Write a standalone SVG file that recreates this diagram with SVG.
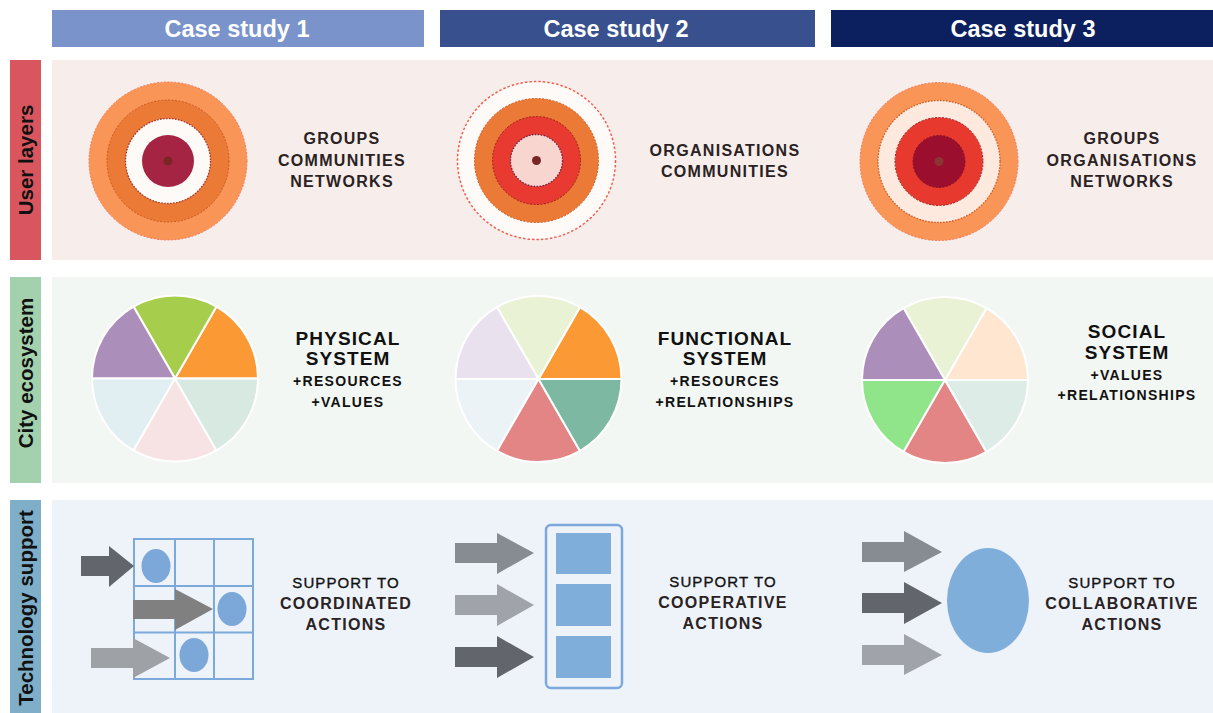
<svg xmlns="http://www.w3.org/2000/svg" xmlns:xlink="http://www.w3.org/1999/xlink" width="1213" height="713" viewBox="0 0 1213 713">
<style>
.hdr{font-family:"Liberation Sans",Arial,sans-serif;font-weight:bold;font-size:23.5px;fill:#ffffff;text-anchor:middle}
.side{font-family:"Liberation Sans",Arial,sans-serif;font-weight:bold;font-size:20.5px;fill:#111111;text-anchor:middle}
.lbl{font-family:"Liberation Sans",Arial,sans-serif;font-weight:bold;font-size:16px;fill:#2a2222;text-anchor:middle;letter-spacing:1.3px}
.big{font-family:"Liberation Sans",Arial,sans-serif;font-weight:bold;font-size:19px;fill:#111111;text-anchor:middle;letter-spacing:1.1px}
.sm{font-family:"Liberation Sans",Arial,sans-serif;font-weight:bold;font-size:14px;fill:#111111;text-anchor:middle;letter-spacing:1.3px}
.sup{font-family:"Liberation Sans",Arial,sans-serif;font-size:15px;fill:#111111;text-anchor:middle;letter-spacing:1.1px;stroke:#111111;stroke-width:0.35px}
.slice{stroke:#ffffff;stroke-width:2;stroke-linejoin:round}
.grid{fill:none;stroke:#7aa9da;stroke-width:2}
.dot{fill:#7ba7d9}
.blk{fill:#7faedb}
</style>
<defs>
<path id="s-tr" d="M0,0 L83,0 A83,83 0 0,0 41.5,-71.88 Z"/>
<path id="s-t" d="M0,0 L41.5,-71.88 A83,83 0 0,0 -41.5,-71.88 Z"/>
<path id="s-tl" d="M0,0 L-41.5,-71.88 A83,83 0 0,0 -83,0 Z"/>
<path id="s-bl" d="M0,0 L-83,0 A83,83 0 0,0 -41.5,71.88 Z"/>
<path id="s-b" d="M0,0 L-41.5,71.88 A83,83 0 0,0 41.5,71.88 Z"/>
<path id="s-br" d="M0,0 L41.5,71.88 A83,83 0 0,0 83,0 Z"/>
</defs>

<rect width="1213" height="713" fill="#ffffff"/>

<!-- headers -->
<g id="header1"><rect x="52" y="10" width="372" height="37" fill="#7b93cb"/><text class="hdr" x="237" y="37">Case study 1</text></g>
<g id="header2"><rect x="440" y="10" width="375" height="37" fill="#38508e"/><text class="hdr" x="616" y="37">Case study 2</text></g>
<g id="header3"><rect x="831" y="10" width="382" height="37" fill="#0c2060"/><text class="hdr" x="1023" y="37">Case study 3</text></g>

<!-- row panels -->
<g id="row-user">
<rect x="52" y="60" width="1161" height="200" fill="#f7edeb"/>
<rect x="10" y="60" width="31" height="200" fill="#d9565e"/>
<text class="side" transform="translate(33,160) rotate(-90)">User layers</text>
</g>
<g id="row-city">
<rect x="52" y="277" width="1161" height="206" fill="#f3f7f3"/>
<rect x="10" y="277" width="31" height="206" fill="#a3d1ad"/>
<text class="side" transform="translate(33,373) rotate(-90)">City ecosystem</text>
</g>
<g id="row-tech">
<rect x="52" y="500" width="1161" height="213" fill="#eef3fa"/>
<rect x="10" y="500" width="31" height="213" fill="#7faec9"/>
<text class="side" transform="translate(33,608) rotate(-90)">Technology support</text>
</g>

<!-- user layers -->
<g id="layers1">
<circle cx="168" cy="161" r="79" fill="#f99556" stroke="#f07a5a" stroke-width="1" stroke-dasharray="2 1.5"/>
<circle cx="168" cy="161" r="61" fill="#ea7a35" stroke="#c85a25" stroke-width="1" stroke-dasharray="2 1.5"/>
<circle cx="168" cy="161" r="42.5" fill="#fefaf8" stroke="#a03030" stroke-width="1.3" stroke-dasharray="1.5 1.5"/>
<circle cx="168" cy="161" r="26" fill="#a52443"/>
<circle cx="168" cy="161" r="4.5" fill="#7a2626"/>
<text class="lbl" x="342" y="144">GROUPS</text>
<text class="lbl" x="342" y="166">COMMUNITIES</text>
<text class="lbl" x="342" y="187">NETWORKS</text>
</g>
<g id="layers2">
<circle cx="536.5" cy="160.5" r="79" fill="#fefaf8" stroke="#f06050" stroke-width="1.5" stroke-dasharray="2.5 2"/>
<circle cx="536.5" cy="160.5" r="62" fill="#ea7a35" stroke="#c85a25" stroke-width="1" stroke-dasharray="2 1.5"/>
<circle cx="536.5" cy="160.5" r="44" fill="#e83a30" stroke="#9a2020" stroke-width="1" stroke-dasharray="2 1.5"/>
<circle cx="536.5" cy="160.5" r="26" fill="#f9d5d0" stroke="#6a2040" stroke-width="1.3" stroke-dasharray="1.5 1.5"/>
<circle cx="536.5" cy="160.5" r="4.5" fill="#7a2626"/>
<text class="lbl" x="725" y="156">ORGANISATIONS</text>
<text class="lbl" x="725" y="177">COMMUNITIES</text>
</g>
<g id="layers3">
<circle cx="939" cy="161.5" r="79" fill="#f99556" stroke="#f07a5a" stroke-width="1" stroke-dasharray="2 1.5"/>
<circle cx="939" cy="161.5" r="61" fill="#fde9de" stroke="#c85a25" stroke-width="1.3" stroke-dasharray="1.5 1.5"/>
<circle cx="939" cy="161.5" r="44" fill="#e8392e" stroke="#9a2020" stroke-width="1" stroke-dasharray="2 1.5"/>
<circle cx="939" cy="161.5" r="26" fill="#9c0e2e" stroke="#801020" stroke-width="1" stroke-dasharray="2 1.5"/>
<circle cx="939" cy="161.5" r="4.5" fill="#8a3434"/>
<text class="lbl" x="1122" y="144">GROUPS</text>
<text class="lbl" x="1122" y="166">ORGANISATIONS</text>
<text class="lbl" x="1122" y="187">NETWORKS</text>
</g>

<!-- city ecosystem -->
<g id="pie1">
<g transform="translate(175,378.5)">
<use xlink:href="#s-tr" class="slice" fill="#fb9935"/>
<use xlink:href="#s-t" class="slice" fill="#a6cd4b"/>
<use xlink:href="#s-tl" class="slice" fill="#ab8fba"/>
<use xlink:href="#s-bl" class="slice" fill="#e2eff2"/>
<use xlink:href="#s-b" class="slice" fill="#f7e3e4"/>
<use xlink:href="#s-br" class="slice" fill="#d8e9e2"/>
</g>
<text class="big" x="348" y="345">PHYSICAL</text>
<text class="big" x="348" y="365">SYSTEM</text>
<text class="sm" x="348" y="386">+RESOURCES</text>
<text class="sm" x="348" y="407">+VALUES</text>
</g>
<g id="pie2">
<g transform="translate(538.5,379)">
<use xlink:href="#s-tr" class="slice" fill="#fb9935"/>
<use xlink:href="#s-t" class="slice" fill="#e9f2d5"/>
<use xlink:href="#s-tl" class="slice" fill="#e9e2ee"/>
<use xlink:href="#s-bl" class="slice" fill="#ecf3f6"/>
<use xlink:href="#s-b" class="slice" fill="#e38585"/>
<use xlink:href="#s-br" class="slice" fill="#7db9a2"/>
</g>
<text class="big" x="725" y="345">FUNCTIONAL</text>
<text class="big" x="725" y="365">SYSTEM</text>
<text class="sm" x="725" y="386">+RESOURCES</text>
<text class="sm" x="725" y="407">+RELATIONSHIPS</text>
</g>
<g id="pie3">
<g transform="translate(945,380)">
<use xlink:href="#s-tr" class="slice" fill="#fee6d0"/>
<use xlink:href="#s-t" class="slice" fill="#e9f2d5"/>
<use xlink:href="#s-tl" class="slice" fill="#ab8fba"/>
<use xlink:href="#s-bl" class="slice" fill="#90e48a"/>
<use xlink:href="#s-b" class="slice" fill="#e38585"/>
<use xlink:href="#s-br" class="slice" fill="#ddece7"/>
</g>
<text class="big" x="1127" y="338">SOCIAL</text>
<text class="big" x="1127" y="359">SYSTEM</text>
<text class="sm" x="1127" y="380">+VALUES</text>
<text class="sm" x="1127" y="400">+RELATIONSHIPS</text>
</g>

<!-- technology support -->
<g id="tech1">
<rect class="grid" x="134" y="539" width="119" height="140"/>
<path class="grid" d="M175,539 V679 M214,539 V679 M134,586 H253 M134,632.5 H253"/>
<ellipse class="dot" cx="156" cy="566" rx="14.5" ry="17"/>
<ellipse class="dot" cx="232" cy="609" rx="14.5" ry="17"/>
<ellipse class="dot" cx="194" cy="655" rx="14.5" ry="17"/>
<text class="sup" x="346" y="588">SUPPORT TO</text>
<text class="lbl" x="346" y="609">COORDINATED</text>
<text class="lbl" x="346" y="630">ACTIONS</text>
</g>
<g id="tech2">
<rect x="546" y="525" width="76" height="163" rx="5" fill="#eef3fa" stroke="#7ba7d9" stroke-width="2.5"/>
<rect class="blk" x="556" y="533" width="55" height="41"/>
<rect class="blk" x="556" y="584" width="55" height="42"/>
<rect class="blk" x="556" y="636" width="55" height="42"/>
<text class="sup" x="723" y="587">SUPPORT TO</text>
<text class="lbl" x="723" y="608">COOPERATIVE</text>
<text class="lbl" x="723" y="629">ACTIONS</text>
</g>
<g id="tech3">
<ellipse class="blk" cx="988" cy="600.5" rx="41" ry="52.5"/>
<text class="sup" x="1122" y="588">SUPPORT TO</text>
<text class="lbl" x="1122" y="609">COLLABORATIVE</text>
<text class="lbl" x="1122" y="630">ACTIONS</text>
</g>

<g id="connectors">
<polygon points="81,556 109,556 109,546 134,566 109,587 109,576 81,576" fill="#62666c"/>
<polygon points="133,600 175,600 175,589 213,609 175,630 175,619 133,619" fill="#808080"/>
<polygon points="91,648 133,648 133,638 170,658 133,678 133,668 91,668" fill="#9ea1a6"/>
<polygon points="455,543 497,543 497,533 534,553 497,574 497,563 455,563" fill="#878b92"/>
<polygon points="455,595 497,595 497,584 534,605 497,626 497,615 455,615" fill="#a0a3a9"/>
<polygon points="455,647 497,647 497,636 534,657 497,678 497,667 455,667" fill="#62666c"/>
<polygon points="862,542 904,542 904,531 942,552 904,572 904,562 862,562" fill="#878b92"/>
<polygon points="862,593 904,593 904,582 942,603 904,624 904,613 862,613" fill="#62666c"/>
<polygon points="862,645 904,645 904,634 942,655 904,675 904,665 862,665" fill="#a0a3a9"/>
</g>
</svg>
